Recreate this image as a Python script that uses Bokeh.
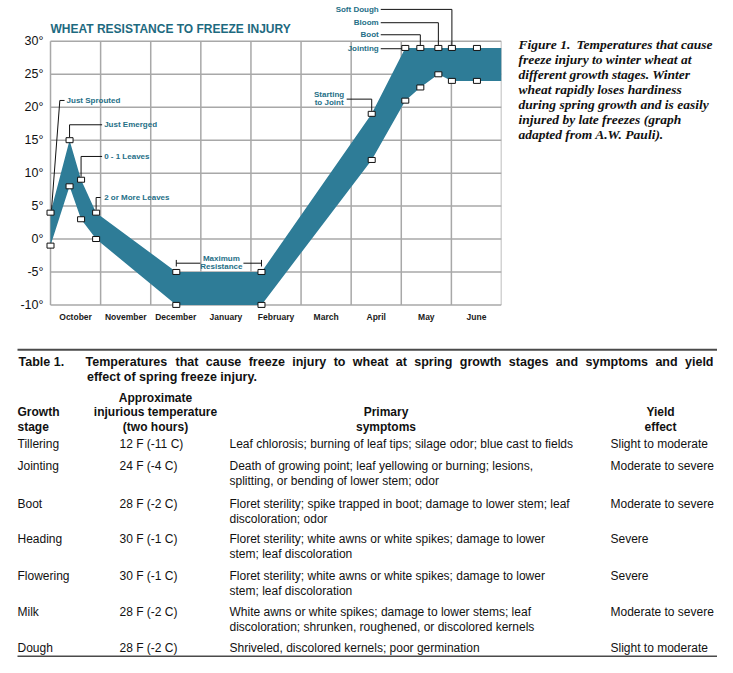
from bokeh.plotting import figure
from bokeh.models import Range1d, FixedTicker, PrintfTickFormatter
from bokeh.layouts import column, row
from bokeh.embed import file_html
from bokeh.resources import INLINE
from bokeh.core.properties import value

# ---------------- data ----------------
months = ["October", "November", "December", "January", "February",
          "March", "April", "May", "June"]
y_ticks = [-10, -5, 0, 5, 10, 15, 20, 25, 30]

# position in months since 1 October
stage_x = [0.0, 0.38, 0.61, 0.91, 2.51, 4.21, 6.41, 7.08, 7.38, 7.74, 8.01, 8.51, 9.0]
upper_temp = [4, 15, 9, 4, -5, -5, 19, 29, 29, 29, 29, 29, 29]
lower_temp = [-1, 8, 3, 0, -10, -10, 12, 21, 23, 25, 24, 24, 24]

stage_labels = ["Just Sprouted", "Just Emerged", "0 - 1 Leaves", "2 or More Leaves",
                "Starting\nto Joint", "Jointing", "Boot", "Bloom", "Soft Dough"]
stage_label_index = [0, 1, 2, 3, 6, 7, 8, 9, 10]

caption_bold = "Figure 1."
caption_lines = [" Temperatures that cause",
                 "freeze injury to winter wheat at",
                 "different growth stages. Winter",
                 "wheat rapidly loses hardiness",
                 "during spring growth and is easily",
                 "injured by late freezes (graph",
                 "adapted from A.W. Pauli)."]

table_title = ["Temperatures that cause freeze injury to wheat at spring growth stages and symptoms and yield",
               "effect of spring freeze injury."]
growth_stages = ["Tillering", "Jointing", "Boot", "Heading", "Flowering", "Milk", "Dough"]
injury_temps = ["12 F (-11 C)", "24 F (-4 C)", "28 F (-2 C)", "30 F (-1 C)",
                "30 F (-1 C)", "28 F (-2 C)", "28 F (-2 C)"]
symptoms = [
    ["Leaf chlorosis; burning of leaf tips; silage odor; blue cast to fields"],
    ["Death of growing point; leaf yellowing or burning; lesions,",
     "splitting, or bending of lower stem; odor"],
    ["Floret sterility; spike trapped in boot; damage to lower stem; leaf",
     "discoloration; odor"],
    ["Floret sterility; white awns or white spikes; damage to lower",
     "stem; leaf discoloration"],
    ["Floret sterility; white awns or white spikes; damage to lower",
     "stem; leaf discoloration"],
    ["White awns or white spikes; damage to lower stems; leaf",
     "discoloration; shrunken, roughened, or discolored kernels"],
    ["Shriveled, discolored kernels; poor germination"],
]
yield_effect = ["Slight to moderate", "Moderate to severe", "Moderate to severe",
                "Severe", "Severe", "Moderate to severe", "Slight to moderate"]

# ---------------- styles ----------------
SANS = value("Liberation Sans")
SERIF = value("Liberation Serif")
BAND = "#2e7c97"
TEAL_TXT = "#256f87"
GRID = "#a8a8a8"

# ---------------- chart ----------------
p = figure(width=510, height=331, x_range=Range1d(-0.1, 9), y_range=Range1d(-11, 36.2),
           toolbar_location=None, output_backend="svg",
           min_border_left=45, min_border_right=9, min_border_top=0, min_border_bottom=20)
p.outline_line_color = None
p.xgrid.visible = False
p.ygrid.visible = False
p.background_fill_color = "white"
p.border_fill_color = "white"

for ax in (p.xaxis[0], p.yaxis[0]):
    ax.axis_line_color = None
    ax.major_tick_line_color = None
    ax.minor_tick_line_color = None
    ax.major_tick_out = 0
    ax.major_tick_in = 0
    ax.minor_tick_out = 0
    ax.minor_tick_in = 0
    ax.major_label_text_font = "Liberation Sans"

p.yaxis.ticker = FixedTicker(ticks=y_ticks)
p.yaxis.formatter = PrintfTickFormatter(format="%d°")
p.yaxis.major_label_text_font_size = "12.5px"
p.yaxis.major_label_text_color = "#111111"
p.yaxis.major_label_standoff = 2

month_centers = [i + 0.5 for i in range(len(months))]
p.xaxis.ticker = FixedTicker(ticks=month_centers)
p.xaxis.major_label_overrides = {c: m for c, m in zip(month_centers, months)}
p.xaxis.major_label_text_font_size = "8.5px"
p.xaxis.major_label_text_font_style = "bold"
p.xaxis.major_label_text_color = "#1a1a1a"
p.xaxis.major_label_standoff = 0

# grid (frame of months x degrees)
vx = list(range(len(months) + 1))
p.segment(x0=vx, x1=vx, y0=[y_ticks[0]] * len(vx), y1=[y_ticks[-1]] * len(vx),
          line_color=GRID, line_width=1.5)
p.segment(x0=[0] * len(y_ticks), x1=[len(months)] * len(y_ticks), y0=y_ticks, y1=y_ticks,
          line_color=GRID, line_width=1.5)

# band
p.varea(x=stage_x, y1=lower_temp, y2=upper_temp, fill_color=BAND)

# title
p.text(x=[0], y=[31.9], text=["WHEAT RESISTANCE TO FREEZE INJURY"], text_font=SANS,
       text_font_size="12px", text_font_style="bold", text_color="#1d6a80",
       text_align="left", text_baseline="middle")

# label layout: (text_x, text_y, align, bend_x, end_x)
label_layout = [
    (0.32, 21.03, "left", 0.186, 0.28),
    (1.07, 17.34, "left", None, 1.03),
    (1.07, 12.53, "left", None, 1.03),
    (1.07, 6.30, "left", None, 1.00),
    (5.56, 21.26, "center", None, 5.91),
    (6.55, 28.88, "right", None, 6.59),
    (6.55, 31.00, "right", None, 6.59),
    (6.55, 32.83, "right", None, 6.59),
    (6.55, 34.85, "right", None, 6.59),
]
lead_xs, lead_ys = [], []
for lab, idx, (tx, ty, al, bx, ex) in zip(stage_labels, stage_label_index, label_layout):
    sx, sy = stage_x[idx], upper_temp[idx]
    bend = sx if bx is None else bx
    if "\n" in lab:
        first, second = lab.split("\n")
        p.text(x=[tx, tx], y=[ty + 0.6, ty - 0.55], text=[first, second], text_font=SANS,
               text_font_size="8px", text_font_style="bold", text_color=TEAL_TXT,
               text_align=al, text_baseline="middle")
        ty_line = ty - 0.03
    else:
        p.text(x=[tx], y=[ty], text=[lab], text_font=SANS, text_font_size="8px",
               text_font_style="bold", text_color=TEAL_TXT, text_align=al,
               text_baseline="middle")
        ty_line = ty
    lead_xs.append([sx if bx is None else sx + 0.02, bend, ex])
    lead_ys.append([sy + 0.45, ty_line, ty_line])
p.multi_line(xs=lead_xs, ys=lead_ys, line_color="#111111", line_width=1)

# Maximum resistance bracket between the two winter points
mx0, mx1 = stage_x[4], stage_x[5]
my = upper_temp[4] + 1.33
mid = (mx0 + mx1) / 2 + 0.05
p.multi_line(xs=[[mx0, mid - 0.42], [mid + 0.44, mx1], [mx0, mx0], [mx1, mx1]],
             ys=[[my, my], [my, my], [my + 0.5, my - 0.5], [my + 0.5, my - 0.5]],
             line_color="#111111", line_width=1)
p.text(x=[mid, mid], y=[my + 0.65, my - 0.5], text=["Maximum", "Resistance"],
       text_font=SANS, text_font_size="8px", text_font_style="bold", text_color=TEAL_TXT,
       text_align="center", text_baseline="middle")

# markers
mk_x = stage_x[:-1] * 2
mk_y = upper_temp[:-1] + lower_temp[:-1]
p.rect(x=mk_x, y=mk_y, width=7, height=5, width_units="screen", height_units="screen",
       fill_color="white", line_color="#111111", line_width=1)

# ---------------- caption ----------------
c = figure(width=207, height=331, x_range=Range1d(510, 717), y_range=Range1d(331, 0),
           toolbar_location=None, output_backend="svg", min_border=0)
c.axis.visible = False
c.xgrid.visible = False
c.ygrid.visible = False
c.outline_line_color = None
cap_y = [46.7 + 16 * i for i in range(len(caption_lines))]
c.text(x=[518], y=[cap_y[0]], text=[caption_bold], text_font=SERIF, text_font_size="13.5px",
       text_font_style="bold italic", text_color="#111111", text_baseline="middle")
c.text(x=[576] + [518] * (len(caption_lines) - 1), y=cap_y,
       text=[caption_lines[0].strip()] + caption_lines[1:], text_font=SERIF,
       text_font_size="13.5px", text_font_style="bold italic", text_color="#111111",
       text_baseline="middle")

# ---------------- table ----------------
t = figure(width=717, height=326, x_range=Range1d(0, 717), y_range=Range1d(657, 331),
           toolbar_location=None, output_backend="svg", min_border=0)
t.axis.visible = False
t.xgrid.visible = False
t.ygrid.visible = False
t.outline_line_color = None
t.segment(x0=[17, 17], x1=[717, 717], y0=[349.3, 656], y1=[349.3, 656],
          line_color="#4a4a4a", line_width=2)

bold_kw = dict(text_font=SANS, text_font_size="12.5px", text_font_style="bold",
               text_color="#111111", text_baseline="middle")
t.text(x=[18], y=[361], text=["Table 1."], **bold_kw)

# justified first title line (approximate bold sans widths, per 1000 em)
BW = {"T": 611, "e": 556, "m": 889, "p": 611, "r": 389, "a": 556, "t": 333, "u": 611,
      "s": 556, "h": 611, "c": 556, "f": 333, "z": 500, "i": 278, "n": 611, "j": 278,
      "y": 556, "o": 611, "w": 778, "g": 611, "d": 611, "l": 278, "k": 556, "b": 611,
      "v": 556}
words = table_title[0].split()
fs = 12.5
wwidths = [sum(BW.get(ch, 556) for ch in w) * fs / 1000 for w in words]
j0, j1 = 85, 713
gap = (j1 - j0 - sum(wwidths)) / (len(words) - 1)
wx, cur = [], j0
for ww in wwidths:
    wx.append(cur)
    cur += ww + gap
t.text(x=wx, y=[361] * len(words), text=words, **bold_kw)
t.text(x=[86.5], y=[376], text=[table_title[1]], **bold_kw)

hdr_kw = dict(text_font=SANS, text_font_size="12px", text_font_style="bold",
              text_color="#111111", text_baseline="middle")
t.text(x=[17, 17], y=[411.5, 426], text=["Growth", "stage"], text_align="left", **hdr_kw)
t.text(x=[155, 155, 155], y=[397, 411.5, 426],
       text=["Approximate", "injurious temperature", "(two hours)"], text_align="center", **hdr_kw)
t.text(x=[385.5, 385.5], y=[411.5, 426], text=["Primary", "symptoms"], text_align="center", **hdr_kw)
t.text(x=[660, 660], y=[411.5, 426], text=["Yield", "effect"], text_align="center", **hdr_kw)

row_y = [443, 465.5, 503, 538.5, 575, 611, 647.5]
body_kw = dict(text_font=SANS, text_font_size="12px", text_color="#111111",
               text_baseline="middle", text_align="left")
t.text(x=[17] * len(growth_stages), y=row_y, text=growth_stages, **body_kw)
t.text(x=[119] * len(injury_temps), y=row_y, text=injury_temps, **body_kw)
t.text(x=[610] * len(yield_effect), y=row_y, text=yield_effect, **body_kw)
sx_, sy_, st_ = [], [], []
for ry, lines in zip(row_y, symptoms):
    for k, ln in enumerate(lines):
        sx_.append(229)
        sy_.append(ry + 15 * k)
        st_.append(ln)
t.text(x=sx_, y=sy_, text=st_, **body_kw)

layout = column(row(p, c), t)
open("out.html", "w").write(file_html(layout, INLINE))
